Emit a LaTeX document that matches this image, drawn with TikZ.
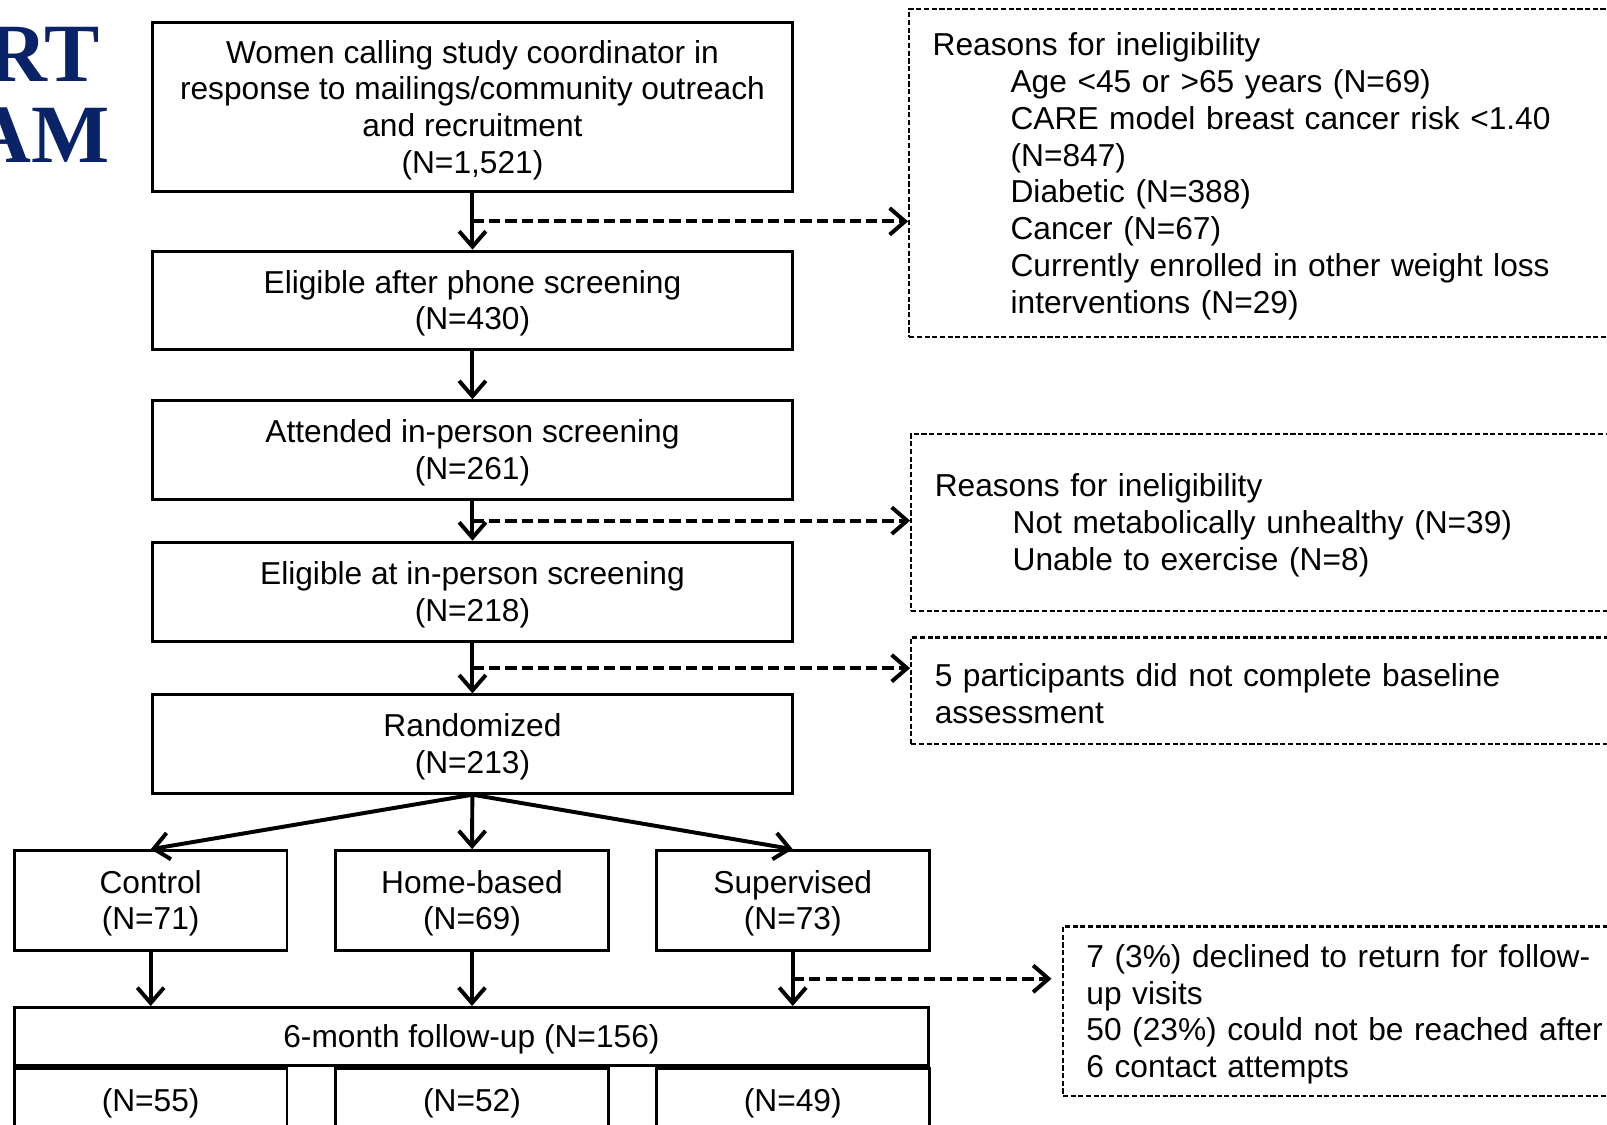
\documentclass[tikz,border=0pt]{standalone}
\usepackage{fontspec}
\setmainfont{Liberation Sans}
\newfontfamily\titlefont{Liberation Serif}
\usepackage{tikz}
\usetikzlibrary{positioning,calc}
\usetikzlibrary{arrows.meta}
\definecolor{navy}{HTML}{0A2266}
\newcommand{\itemind}{\hspace*{0.76cm}}
\newcommand{\toppad}{\rule{0pt}{8.1pt}}

\begin{document}
\begin{tikzpicture}[>={Straight Barb[length=1.5mm,width=2.6mm]}, font=\fontsize{8.8}{10.2}\selectfont,
	box/.style={draw, rectangle, line width=0.8pt, align=center, inner sep=0pt, minimum width=6.24cm, minimum height=0.96cm, text depth=0.15pt},
	arm/.style={draw, rectangle, line width=0.8pt, align=center, inner sep=0pt, minimum width=2.66cm, minimum height=0.97cm, text depth=0.15pt},
	excl/.style={draw, rectangle, dash pattern=on 0.5mm off 0.25mm, line width=0.6pt, align=left, anchor=north west, text width=7cm, inner xsep=0.23cm, inner ysep=0pt, execute at begin node=\toppad},
	title/.style={font=\titlefont\bfseries\fontsize{23}{23}\selectfont, text=navy, inner sep=0pt, anchor=base east},
	flow/.style={->, line width=1.1pt},
	side/.style={->, line width=1.1pt, dash pattern=on 1.1mm off 0.5mm}]
				\useasboundingbox (0,0) rectangle (15.68,-10.97);
				\clip (0,0) rectangle (15.68,-10.97);

				% Nodes

				\node [title] (rt) at (0.98,-0.80) {RT};
				\node [title] (am) at (1.08,-1.59) {AM};

				\node [box, minimum height=1.65cm] (calls) at (4.61,-1.045)
				{Women calling study coordinator in\\response to mailings/community outreach\\and recruitment\\(N=1,521)};
				\node [box] (phone) at (4.61,-2.93) {Eligible after phone screening\\(N=430)};
				\node [box] (attend) at (4.61,-4.39) {Attended in-person screening\\(N=261)};
				\node [box, minimum height=0.97cm] (elig) at (4.61,-5.775) {Eligible at in-person screening\\(N=218)};
				\node [box] (rand) at (4.61,-7.26) {Randomized\\(N=213)};

				\node [arm] (ctrl) at (1.47,-8.785) {Control\\(N=71)};
				\node [arm] (home) at (4.605,-8.785) {Home-based\\(N=69)};
				\node [arm] (sup) at (7.735,-8.785) {Supervised\\(N=73)};
				\node [box, minimum width=8.92cm, minimum height=0.57cm] (fu) at (4.60,-10.115) {6-month follow-up (N=156)};
				\node [arm, anchor=north, minimum height=0.62cm] (ctrlfu) at (ctrl |- fu.south) {(N=55)};
				\node [arm, anchor=north, minimum height=0.62cm] (homefu) at (home |- fu.south) {(N=52)};
				\node [arm, anchor=north, minimum height=0.62cm] (supfu) at (sup |- fu.south) {(N=49)};

				\node [excl, minimum height=3.2cm] (why1) at (8.86,-0.08)
				{%
					Reasons for ineligibility\\
					\itemind Age <45 or >65 years (N=69)\\
					\itemind CARE model breast cancer risk <1.40\\
					\itemind (N=847)\\
					\itemind Diabetic (N=388)\\
					\itemind Cancer (N=67)\\
					\itemind Currently enrolled in other weight loss\\
					\itemind interventions (N=29)};
				\node [excl, minimum height=1.73cm] (why2) at (8.88,-4.22)
				{%
					Reasons for ineligibility\\
					\itemind Not metabolically unhealthy (N=39)\\
					\itemind Unable to exercise (N=8)};
				\node [excl, minimum height=1.04cm] (why3) at (8.88,-6.21)
				{5 participants did not complete baseline\\assessment};
				\node [excl, minimum height=1.65cm] (why4) at (10.36,-9.03)
				{7 (3\%) declined to return for follow-\\up visits\\50 (23\%) could not be reached after\\6 contact attempts};

				% Arrows

				\draw[flow] (calls) -- (phone);\draw[flow] (phone) -- (attend);
				\draw[flow] (attend) -- (elig);\draw[flow] (elig) -- (rand);
				\draw[flow] (rand.south) -- (ctrl.north);\draw[flow] (rand) -- (home);
				\draw[flow] (rand.south) -- (sup.north);
				\draw[flow] (ctrl) -- (ctrl |- fu.north);\draw[flow] (home) -- (home |- fu.north);
				\draw[flow] (sup) -- (sup |- fu.north);

				\coordinate (c1) at ($ (calls.south)!0.5!(phone.north) $);
				\coordinate (c2) at ($ (attend.south)!0.5!(elig.north) $);
				\coordinate (c3) at ($ (elig.south)!0.5!(rand.north) $);
				\coordinate (c4) at ($ (sup.south)!0.5!(sup.south |- fu.north) $);
				\draw[side] (c1) -- (c1 -| why1.west);
				\draw[side] (c2) -- (c2 -| why2.west);
				\draw[side] (c3) -- (c3 -| why3.west);
				\draw[side, shorten >=0.1cm] (c4) -- (c4 -| why4.west);
			\end{tikzpicture}
\end{document}
